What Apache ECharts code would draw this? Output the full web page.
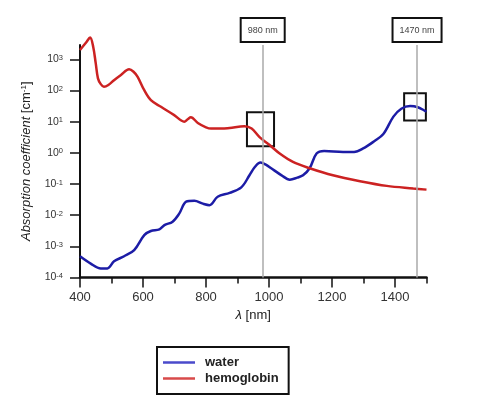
<!DOCTYPE html>
<html>
<head>
<meta charset="utf-8">
<script src="https://cdn.jsdelivr.net/npm/echarts@6/dist/echarts.min.js"></script>
<style>html,body{margin:0;padding:0;background:#fff}#c{width:496px;height:400px}</style>
</head>
<body>
<div id="c"></div>
<script>
// ---- data (wavelength in nm, absorption coefficient in cm^-1) ----
const waterWavelength = [400,434,466,487,508,540,572,604,625,652,668,694,715,737,763,790,811,837,875,912,938,955,973,990,1007,1040,1066,1090,1108,1129,1151,1175,1235,1270,1299,1335,1363,1395,1420,1448,1470,1500];
const waterAbs = [4.8e-4,2.8e-4,1.95e-4,1.95e-4,3.3e-4,4.8e-4,7.6e-4,2.3e-3,3.1e-3,3.5e-3,4.8e-3,6.2e-3,0.0112,0.027,0.029,0.0234,0.021,0.039,0.052,0.078,0.19,0.35,0.49,0.42,0.32,0.19,0.138,0.16,0.19,0.32,0.95,1.15,1.07,1.07,1.38,2.4,4.0,14.5,26,31.6,29.5,21];
const hbWavelength = [400,420,432,442,450,457,466,476,490,508,530,556,570,583,604,625,657,699,731,742,752,774,800,816,850,875,922,945,970,1002,1034,1076,1129,1203,1289,1374,1458,1500];
const hbAbs = [2000,3550,5000,2500,740,245,160,132,150,214,316,480,400,275,102,49,30,16.2,10,12,13.8,9.1,6.6,6.0,6.0,6.3,7.1,6.0,3.2,1.78,0.95,0.51,0.32,0.19,0.123,0.087,0.072,0.066];
const seriesNames = ['water','hemoglobin'];
const xMajorTicks = [400,600,800,1000,1200,1400];
const xMinorTicks = [500,700,900,1100,1300,1500];
const yDecades = [-4,-3,-2,-1,0,1,2,3];
const markerWavelengths = [980,1470];
const markerLabels = ['980 nm','1470 nm'];
// highlight boxes: [x0, x1, yLow, yHigh] in nm and cm^-1
const highlightBoxes = [[930,1016,1.64,20],[1429,1498,11,81]];

const font = "'Liberation Sans', Arial, Helvetica, sans-serif";
const toPairs = (xs, ys) => xs.map((x,i)=>[x, Math.log10(ys[i])]);

const chart = echarts.init(document.getElementById('c'), null, {renderer:'canvas'});
chart.setOption({
  animation:false,
  backgroundColor:'#fff',
  textStyle:{fontFamily:font},
  grid:{left:80, right:69.5, top:45, bottom:122.5, containLabel:false},
  legend:{
    left:157, top:347, orient:'vertical',
    borderColor:'#111', borderWidth:2, borderRadius:0,
    padding:[9,10,9,6], itemGap:3,
    icon:'rect', itemWidth:32, itemHeight:2.5,
    textStyle:{fontFamily:font, fontSize:13, fontWeight:'bold', color:'#222', padding:[0,0,0,5]},
    data:[{name:seriesNames[0], itemStyle:{color:'#4a4acb'}},{name:seriesNames[1], itemStyle:{color:'#d84a4a'}}]
  },
  xAxis:[{
    type:'value', min:400, max:1500, interval:100,
    name:'{i|λ} [nm]', nameLocation:'middle', nameGap:31,
    nameTextStyle:{fontFamily:font, fontSize:13, color:'#222', rich:{i:{fontStyle:'italic', fontSize:13, fontFamily:font, color:'#222'}}},
    axisLine:{show:true, onZero:false, lineStyle:{color:'#111', width:2.5}},
    axisTick:{show:true, customValues:xMajorTicks, length:10, lineStyle:{color:'#111', width:1.5}},
    axisLabel:{customValues:xMajorTicks, fontFamily:font, fontSize:13, color:'#333', margin:13, formatter:v=>String(v)},
    splitLine:{show:false}
  },{
    type:'value', min:400, max:1500, position:'bottom', gridIndex:0,
    axisLine:{show:false, onZero:false},
    axisTick:{show:true, customValues:xMinorTicks, length:6, lineStyle:{color:'#111', width:1.5}},
    axisLabel:{show:false}, splitLine:{show:false}
  }],
  yAxis:{
    type:'value', min:-4, max:3.46,
    name:'{i|Absorption coefficient} [cm{s|-1}]', nameLocation:'middle', nameGap:41,
    nameTextStyle:{fontFamily:font, fontSize:13, color:'#222',
      rich:{i:{fontStyle:'italic', fontSize:13, fontFamily:font, color:'#222'},
            s:{fontSize:8, fontFamily:font, color:'#222', verticalAlign:'top', lineHeight:8, padding:[0,0,6,0]}}},
    axisLine:{show:true, onZero:false, lineStyle:{color:'#111', width:2}},
    axisTick:{show:true, customValues:yDecades, length:10, lineStyle:{color:'#111', width:1.5}},
    axisLabel:{customValues:yDecades, margin:17, color:'#333',
      formatter:v=>'{b|10}{s|'+Math.round(v)+'}',
      rich:{b:{fontSize:10.5, fontFamily:font, color:'#333', lineHeight:11, verticalAlign:'bottom'},
            s:{fontSize:7.5, fontFamily:font, color:'#333', lineHeight:8, verticalAlign:'top', padding:[0,0,6,0]}}},
    splitLine:{show:false}
  },
  series:[{
    name:seriesNames[0], type:'line', symbol:'none', smooth:0.35, z:3, clip:false,
    data:toPairs(waterWavelength, waterAbs),
    lineStyle:{color:'#1c1ca6', width:2.5}, itemStyle:{color:'#1c1ca6'}
  },{
    name:seriesNames[1], type:'line', symbol:'none', smooth:0.35, z:4, clip:false,
    data:toPairs(hbWavelength, hbAbs),
    lineStyle:{color:'#cc2222', width:2.5}, itemStyle:{color:'#cc2222'}
  },{
    name:'markers', type:'line', data:[], z:2, silent:true,
    markLine:{
      silent:true, symbol:['none','none'], animation:false,
      lineStyle:{color:'#aaa', width:1.5, type:'solid'},
      label:{show:true, position:'end', distance:4, fontFamily:font, fontSize:9, color:'#444',
        borderColor:'#111', borderWidth:2, padding:[7,6,6,6], backgroundColor:'#fff'},
      data:markerWavelengths.map((w,i)=>({xAxis:w, label:{formatter:markerLabels[i]}}))
    },
    markArea:{
      silent:true,
      itemStyle:{color:'rgba(0,0,0,0)', borderColor:'#111', borderWidth:2},
      data:highlightBoxes.map(b=>[{xAxis:b[0], yAxis:Math.log10(b[3])},{xAxis:b[1], yAxis:Math.log10(b[2])}])
    }
  }]
});
</script>
</body>
</html>
